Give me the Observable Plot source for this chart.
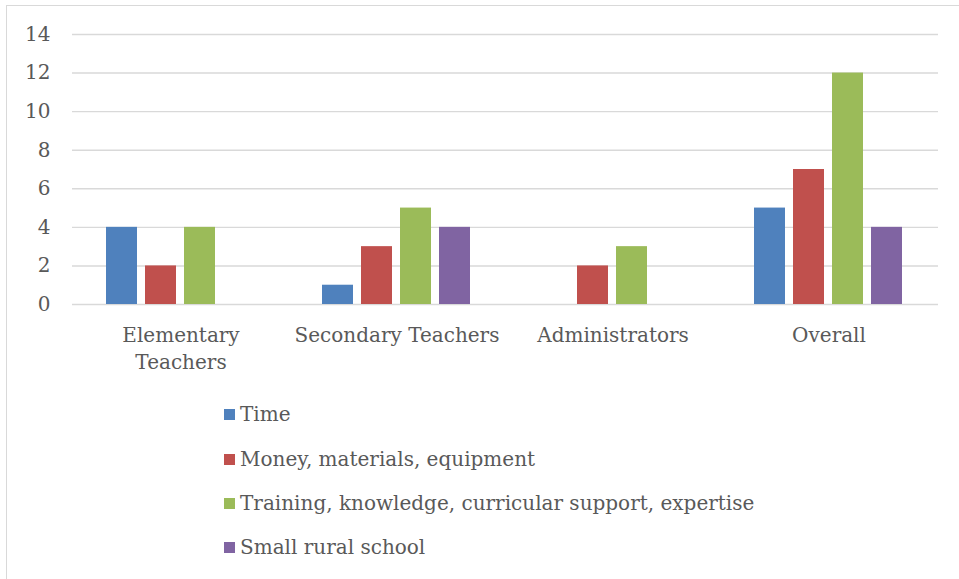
<!DOCTYPE html>
<html>
<head>
<meta charset="utf-8">
<script src="https://cdn.jsdelivr.net/npm/d3@7"></script>
<script src="https://cdn.jsdelivr.net/npm/@observablehq/plot@0.6"></script>
<style>
  html, body { margin: 0; padding: 0; background: #fff; }
  #wrap { position: relative; width: 959px; height: 579px; overflow: hidden; font-family: "DejaVu Serif", serif; color: #595959; }
  #frame { position: absolute; left: 6px; top: 5px; width: 960px; height: 600px; border-left: 1.5px solid #d9d9d9; border-top: 1.5px solid #d9d9d9; }
  .layer { position: absolute; left: 0; top: 0; }
  #legend { position: absolute; left: 224px; top: 400px; font-size: 20px; }
  .row { position: absolute; left: 0; height: 28px; white-space: nowrap; display: flex; align-items: center; }
  .sw { width: 11px; height: 11px; margin-right: 5px; }
</style>
</head>
<body>
<div id="wrap">
  <div id="frame"></div>
  <div id="grid" class="layer"></div>
  <div id="chart" class="layer"></div>
  <div id="legend"></div>
</div>
<script>
const groups = ["Elementary Teachers", "Secondary Teachers", "Administrators", "Overall"];
const groupLabels = ["Elementary\nTeachers", "Secondary Teachers", "Administrators", "Overall"];
const series = ["Time", "Money, materials, equipment", "Training, knowledge, curricular support, expertise", "Small rural school"];
const colors = ["#4F81BD", "#C0504D", "#9BBB59", "#8064A2"];
const timeVals = [4, 1, 0, 5];
const moneyVals = [2, 3, 2, 7];
const trainingVals = [4, 5, 3, 12];
const ruralVals = [0, 4, 0, 4];
const yTicks = [0, 2, 4, 6, 8, 10, 12, 14];

const valuesBySeries = [timeVals, moneyVals, trainingVals, ruralVals];
const data = [];
groups.forEach((g, gi) => {
  series.forEach((s, si) => {
    data.push({group: g, series: s, value: valuesBySeries[si][gi]});
  });
});

const common = {
  width: 959,
  height: 395,
  marginLeft: 72,
  marginRight: 21,
  marginTop: 34,
  marginBottom: 91,
  style: {fontFamily: "DejaVu Serif, serif", fontSize: "20px", color: "#595959", background: "transparent"},
  y: {domain: [0, 14], axis: null}
};

const gridPlot = Plot.plot({
  ...common,
  marks: [
    Plot.gridY(yTicks, {stroke: "#d9d9d9", strokeOpacity: 1, strokeWidth: 1.4}),
    Plot.axisY(yTicks, {tickSize: 0, tickPadding: 22, fontSize: 20, fill: "#595959"})
  ]
});
document.getElementById("grid").appendChild(gridPlot);

const plot = Plot.plot({
  ...common,
  fx: {domain: groups, paddingInner: 0.31, paddingOuter: 0.155, axis: null},
  x: {domain: series, paddingInner: 0.2, paddingOuter: 0, axis: null},
  color: {domain: series, range: colors},
  marks: [
    Plot.barY(data, {fx: "group", x: "series", y: "value", fill: "series"}),
    Plot.axisFx({anchor: "bottom", label: null, tickSize: 0, tickPadding: 18, fontSize: 20, fill: "#595959",
      lineHeight: 1.35, lineAnchor: "top",
      tickFormat: d => groupLabels[groups.indexOf(d)]})
  ]
});
document.getElementById("chart").appendChild(plot);

const legend = document.getElementById("legend");
const rowTops = [0, 45, 89, 133];
series.forEach((s, i) => {
  const row = document.createElement("div");
  row.className = "row";
  row.style.top = rowTops[i] + "px";
  const sw = document.createElement("span");
  sw.className = "sw";
  sw.style.background = colors[i];
  const t = document.createElement("span");
  t.textContent = s;
  row.appendChild(sw);
  row.appendChild(t);
  legend.appendChild(row);
});
</script>
</body>
</html>
